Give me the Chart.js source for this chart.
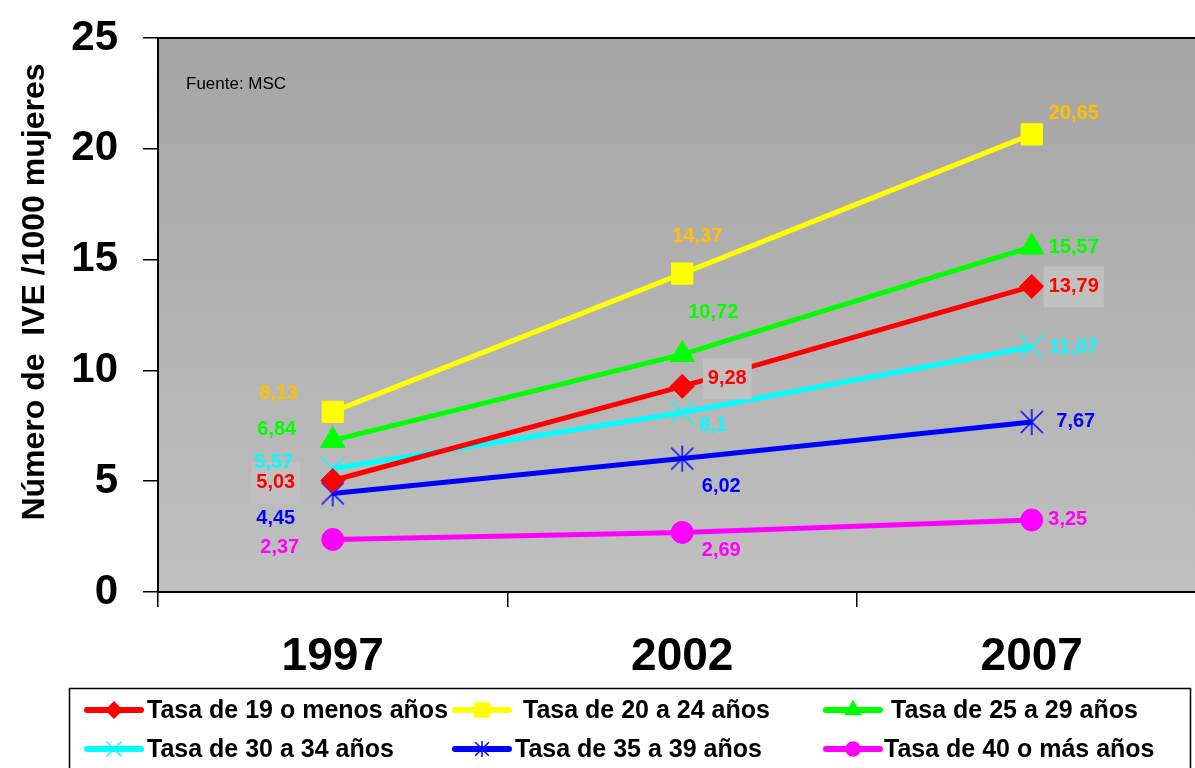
<!DOCTYPE html>
<html>
<head>
<meta charset="utf-8">
<script src="https://cdn.jsdelivr.net/npm/chart.js@4"></script>
<style>
  html, body { margin: 0; padding: 0; overflow: hidden; background: #fff; }
  #wrap { width: 1224px; height: 768px; }
</style>
</head>
<body>
<div id="wrap"><canvas id="ive-chart" width="1224" height="768"></canvas></div>
<script>
// data
const years = ['1997', '2002', '2007'];
const seriesNames = [
  'Tasa de 19 o menos años',
  'Tasa de 20 a 24 años',
  'Tasa de 25 a 29 años',
  'Tasa de 30 a 34 años',
  'Tasa de 35 a 39 años',
  'Tasa de 40 o más años'
];
const tasa19 = [5.03, 9.28, 13.79];
const tasa20 = [8.13, 14.37, 20.65];
const tasa25 = [6.84, 10.72, 15.57];
const tasa30 = [5.57, 8.1, 11.07];
const tasa35 = [4.45, 6.02, 7.67];
const tasa40 = [2.37, 2.69, 3.25];
const yTicks = [0, 5, 10, 15, 20, 25];

const FONT = '"Liberation Sans", Arial, sans-serif';

// asterisk marker (vertical bar + X), like the original
function makeAsterisk(color, r, lw) {
  const s = Math.ceil(2 * r + lw + 2);
  const c = document.createElement('canvas');
  c.width = s; c.height = s;
  const g = c.getContext('2d');
  const m = s / 2, d = r * 0.85;
  g.strokeStyle = color;
  g.lineWidth = lw;
  g.beginPath();
  g.moveTo(m, m - r); g.lineTo(m, m + r);
  g.moveTo(m - d, m - d); g.lineTo(m + d, m + d);
  g.moveTo(m - d, m + d); g.lineTo(m + d, m - d);
  g.stroke();
  return c;
}
const asteriskBig = makeAsterisk('#0000ff', 13, 1.5);
const asteriskSmall = makeAsterisk('#0000ff', 8, 1.5);

// label offsets from each point (px) and style per series
const labelStyle = [
  { color: '#ff0000', box: true,  off: [[-57, 2], [45, -8], [42, 0]] },
  { color: '#ffc000', box: false, off: [[-54, -18], [15, -37], [42, -21]] },
  { color: '#00ff00', box: false, off: [[-56, -11], [31, -42], [42, 1]] },
  { color: '#00ffff', box: false, off: [[-59, -6], [31, 13], [42, 1]] },
  { color: '#0000ff', box: false, off: [[-57, 25], [39, 28], [44, -1]] },
  { color: '#ff00ff', box: false, off: [[-53, 8], [39, 18], [36, 0]] }
];

const legendMarks = [
  { style: 'rectRot', r: 8 },
  { style: 'rect', r: 10 },
  { style: 'triangle', r: 9 },
  { style: 'crossRot', r: 10 },
  { style: asteriskSmall, r: 8 },
  { style: 'circle', r: 7 }
];

function series(i, data, color, pointStyle, radius, borderW) {
  return {
    label: seriesNames[i],
    data: data,
    borderColor: color,
    backgroundColor: color,
    pointBackgroundColor: color,
    pointBorderColor: color,
    pointStyle: pointStyle,
    pointRadius: radius,
    pointHoverRadius: radius,
    pointBorderWidth: borderW,
    borderWidth: 5,
    tension: 0
  };
}

const plotBackground = {
  id: 'plotBackground',
  beforeDraw(chart) {
    const { ctx, chartArea: a } = chart;
    const grad = ctx.createLinearGradient(0, a.top, 0, a.bottom);
    grad.addColorStop(0, '#a5a5a5');
    grad.addColorStop(1, '#c0c0c0');
    ctx.save();
    ctx.fillStyle = grad;
    ctx.fillRect(a.left, a.top, a.right - a.left, a.bottom - a.top);
    ctx.strokeStyle = '#000';
    ctx.lineWidth = 2;
    ctx.beginPath();
    ctx.moveTo(a.left, a.top);
    ctx.lineTo(a.right, a.top);
    ctx.stroke();
    ctx.fillStyle = '#000';
    ctx.font = '17px ' + FONT;
    ctx.textBaseline = 'middle';
    ctx.fillText('Fuente: MSC', a.left + 28, a.top + 46);
    ctx.restore();
  }
};

const valueLabels = {
  id: 'valueLabels',
  afterDatasetsDraw(chart) {
    const ctx = chart.ctx;
    ctx.save();
    ctx.font = 'bold 20px ' + FONT;
    ctx.textAlign = 'center';
    ctx.textBaseline = 'middle';
    chart.data.datasets.forEach((ds, i) => {
      const st = labelStyle[i];
      chart.getDatasetMeta(i).data.forEach((pt, j) => {
        const txt = String(ds.data[j]).replace('.', ',');
        const x = pt.x + st.off[j][0];
        const y = pt.y + st.off[j][1];
        if (st.box) {
          const w = ctx.measureText(txt).width + 10;
          ctx.fillStyle = '#c0c0c0';
          ctx.fillRect(x - w / 2, y - 20, w, 41);
        }
        ctx.fillStyle = st.color;
        ctx.fillText(txt, x, y);
      });
    });
    ctx.restore();
  }
};

const sideTitle = {
  id: 'sideTitle',
  afterDraw(chart) {
    const ctx = chart.ctx;
    ctx.save();
    ctx.translate(35, 292);
    ctx.rotate(-Math.PI / 2);
    ctx.font = 'bold 32px ' + FONT;
    ctx.fillStyle = '#000';
    ctx.textAlign = 'center';
    ctx.textBaseline = 'middle';
    ctx.fillText('Número de  IVE /1000 mujeres', 0, 0);
    ctx.restore();
  }
};

const boxLegend = {
  id: 'boxLegend',
  afterDraw(chart) {
    const ctx = chart.ctx;
    const cols = [[87, 147], [455, 523], [826, 891]];
    const cols2 = [[87, 147], [455, 515], [826, 884]];
    const rows = [710, 749];
    ctx.save();
    ctx.strokeStyle = '#000';
    ctx.lineWidth = 1.5;
    ctx.strokeRect(69.5, 688.5, 1121, 100);
    ctx.font = 'bold 25px ' + FONT;
    ctx.textBaseline = 'middle';
    chart.data.datasets.forEach((ds, i) => {
      const row = Math.floor(i / 3);
      const c = (row === 0 ? cols : cols2)[i % 3];
      const y = rows[row];
      ctx.strokeStyle = ds.borderColor;
      ctx.lineWidth = 6;
      ctx.lineCap = 'round';
      ctx.beginPath();
      ctx.moveTo(c[0], y);
      ctx.lineTo(c[0] + 54, y);
      ctx.stroke();
      ctx.fillStyle = ds.borderColor;
      ctx.lineWidth = 1.5;
      Chart.helpers.drawPoint(ctx, { pointStyle: legendMarks[i].style, radius: legendMarks[i].r, rotation: 0, borderWidth: 1.5 }, c[0] + 27, y);
      ctx.fillStyle = '#000';
      ctx.fillText(ds.label, c[1], y + 1);
    });
    ctx.restore();
  }
};

new Chart(document.getElementById('ive-chart'), {
  type: 'line',
  data: {
    labels: years,
    datasets: [
      series(0, tasa19, '#ff0000', 'rectRot', 12, 1),
      series(1, tasa20, '#ffff00', 'rect', 15, 1),
      series(2, tasa25, '#00ff00', 'triangle', 14, 1),
      series(3, tasa30, '#00ffff', 'crossRot', 16, 1.5),
      series(4, tasa35, '#0000ff', asteriskBig, 13, 1.5),
      series(5, tasa40, '#ff00ff', 'circle', 11, 1)
    ]
  },
  options: {
    responsive: false,
    animation: false,
    layout: { padding: { top: 38, right: 3, bottom: 0, left: 0 } },
    plugins: {
      legend: { display: false },
      tooltip: { enabled: false }
    },
    scales: {
      x: {
        type: 'category',
        offset: true,
        afterFit: (s) => {
          s.height = 176;
          s.paddingLeft = 0; s.paddingRight = 0;
        },
        border: { display: true, color: '#000', width: 2 },
        grid: { offset: true, drawOnChartArea: false, tickLength: 15, color: '#000', lineWidth: 1.5 },
        ticks: {
          padding: 23,
          color: '#000',
          font: { family: FONT, size: 46, weight: 'bold' }
        }
      },
      y: {
        min: 0,
        max: 25,
        afterFit: (s) => {
          s.width = 158;
          s.paddingTop = 0; s.paddingBottom = 0;
        },
        afterBuildTicks: (s) => { s.ticks = yTicks.map(v => ({ value: v })); },
        border: { display: true, color: '#000', width: 2 },
        grid: { drawOnChartArea: false, tickLength: 15, color: '#000', lineWidth: 1.5 },
        ticks: {
          padding: 25,
          color: '#000',
          font: { family: FONT, size: 42, weight: 'bold' }
        }
      }
    }
  },
  plugins: [plotBackground, valueLabels, sideTitle, boxLegend]
});
</script>
</body>
</html>
